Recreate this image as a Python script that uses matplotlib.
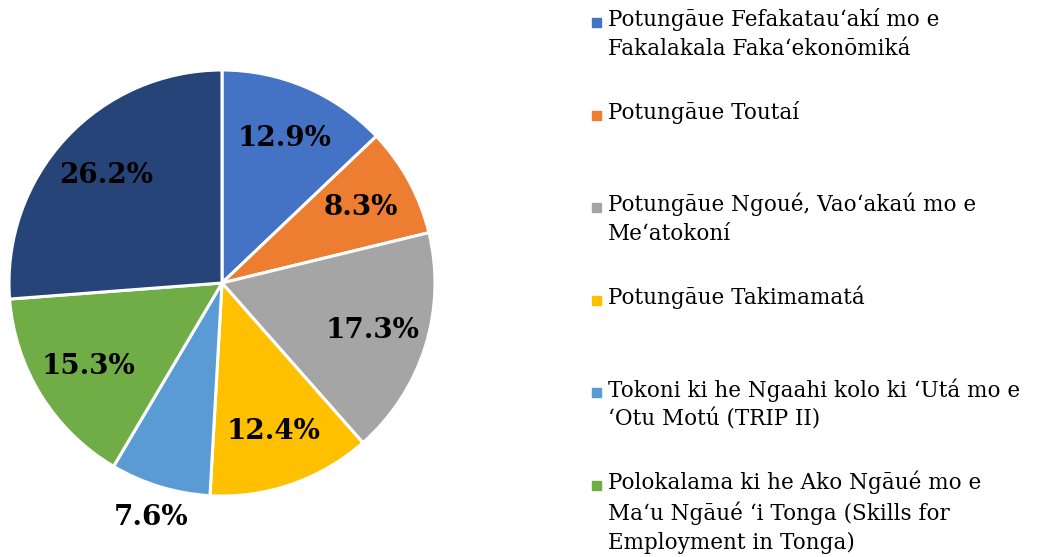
import numpy as np
import matplotlib
matplotlib.use("Agg")
import matplotlib.pyplot as plt
from matplotlib.patches import Rectangle

# slice shares (%), clockwise from 12 o'clock
labels = [
    "Potungāue Fefakatau‘akí mo e\nFakalakala Faka‘ekonōmiká",
    "Potungāue Toutaí",
    "Potungāue Ngoué, Vao‘akaú mo e\nMe‘atokoní",
    "Potungāue Takimamatá",
    "Tokoni ki he Ngaahi kolo ki ‘Utá mo e\n‘Otu Motú (TRIP II)",
    "Polokalama ki he Ako Ngāué mo e\nMa‘u Ngāué ‘i Tonga (Skills for\nEmployment in Tonga)",
    "",
]
shares = [12.9, 8.3, 17.3, 12.4, 7.6, 15.3, 26.2]
colors = ['#4472C4', '#ED7D31', '#A5A5A5', '#FFC000', '#5B9BD5', '#70AD47', '#264478']

W, H = 1038, 557
fig = plt.figure(figsize=(W / 100, H / 100), dpi=100)
fig.patch.set_facecolor('white')

# pie axes, square in pixels
cx, cy, r = 222, 283, 213
ax = fig.add_axes([(cx - r) / W, (H - cy - r) / H, 2 * r / W, 2 * r / H])
wedges, _ = ax.pie(shares, colors=colors, startangle=90, counterclock=False,
                   wedgeprops=dict(edgecolor='white', linewidth=2.2))
ax.set_xlim(-1, 1)
ax.set_ylim(-1, 1)
ax.set_aspect('equal')
ax.axis('off')

# percentage labels
for i, w in enumerate(wedges):
    ang = np.deg2rad((w.theta1 + w.theta2) / 2)
    dist = 1.15 if shares[i] < 8 else 0.74
    ax.text(dist * np.cos(ang), dist * np.sin(ang), f"{shares[i]:.1f}%",
            ha='center', va='center', fontsize=20, fontweight='bold',
            family='DejaVu Serif', color='black', clip_on=False)

# legend on the right
y0, step = 22, 92.5
for i, lab in enumerate(labels):
    if not lab:
        continue
    yc = y0 + i * step
    fig.patches.append(Rectangle((592 / W, 1 - (yc + 5) / H), 9 / W, 9 / H,
                                 transform=fig.transFigure, color=colors[i]))
    fig.text(608 / W, 1 - (yc - 14) / H, lab, ha='left', va='top',
             fontsize=15.5, family='DejaVu Serif', linespacing=1.4)

fig.savefig('out.png', dpi=100)
